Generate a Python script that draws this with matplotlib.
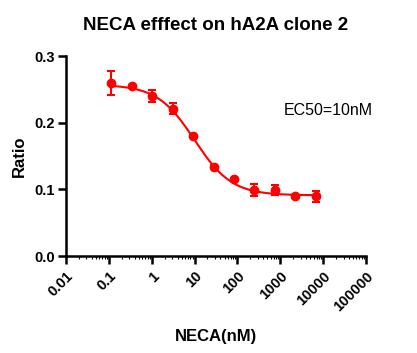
import numpy as np
import matplotlib
matplotlib.use("Agg")
import matplotlib.pyplot as plt
from matplotlib.ticker import FixedLocator, NullFormatter

conc = [0.114, 0.343, 1.03, 3.09, 9.26, 27.8, 83.3, 250, 750, 2250, 6750]
ratio = [0.2595, 0.2545, 0.2405, 0.221, 0.180, 0.134, 0.1155, 0.0985, 0.0985, 0.0895, 0.0895]
err = [0.018, 0.002, 0.009, 0.008, 0.002, 0.002, 0.002, 0.009, 0.0075, 0.002, 0.008]
top, bottom, ec50, hill = 0.257, 0.091, 10.0, 1.0
xticks = [0.01, 0.1, 1, 10, 100, 1000, 10000, 100000]
xticklabels = ["0.01", "0.1", "1", "10", "100", "1000", "10000", "100000"]
yticks = [0.0, 0.1, 0.2, 0.3]
yticklabels = ["0.0", "0.1", "0.2", "0.3"]

plt.rcParams['font.family'] = ['Liberation Sans', 'DejaVu Sans']
fig = plt.figure(figsize=(4.17, 3.53), dpi=100)
ax = fig.add_axes([66/417, 1-256/353, 300/417, 200/353])
ax.set_xscale('log')
ax.set_xlim(0.01, 100000)
ax.set_ylim(0, 0.3)

xs = np.logspace(np.log10(conc[0]), np.log10(conc[-1]), 300)
ys = bottom + (top - bottom) / (1 + (xs / ec50) ** hill)
ax.plot(xs, ys, color='#ff0000', lw=1.5, zorder=2)
ax.errorbar(conc, ratio, yerr=err, fmt='o', color='#ff0000', ms=6,
            elinewidth=1.5, capsize=3, capthick=1.5, zorder=3, clip_on=False)

for s in ['top', 'right']:
    ax.spines[s].set_visible(False)
for s in ['left', 'bottom']:
    ax.spines[s].set_linewidth(1.8)

ax.set_xticks(xticks)
ax.set_xticklabels(xticklabels, rotation=45, ha='right', rotation_mode='anchor',
                   fontsize=10.5, fontweight='bold')
minors = [m * 10.0 ** e for e in range(-2, 5) for m in range(2, 10)]
ax.xaxis.set_minor_locator(FixedLocator(minors))
ax.xaxis.set_minor_formatter(NullFormatter())
ax.tick_params(axis='x', which='major', length=6, width=1.8)
ax.tick_params(axis='x', which='minor', length=2, width=0.8)
ax.set_yticks(yticks)
ax.set_yticklabels(yticklabels, fontsize=10.5, fontweight='bold')
ax.tick_params(axis='y', which='major', length=6, width=1.8, pad=2)

ax.set_xlabel('NECA(nM)', fontsize=12, fontweight='bold', labelpad=11)
ax.set_ylabel('Ratio', fontsize=12, fontweight='bold', labelpad=5)
ax.set_title('NECA efffect on hA2A clone 2', fontsize=13.5, fontweight='bold', pad=19)
ax.text(0.725, 0.705, 'EC50=10nM', transform=ax.transAxes, fontsize=11.5)

fig.savefig('out.png', dpi=100)
